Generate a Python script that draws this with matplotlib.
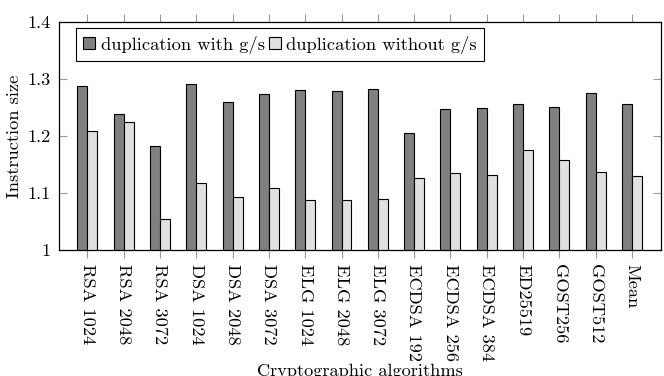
import matplotlib
matplotlib.use('Agg')
import matplotlib.pyplot as plt
from matplotlib.ticker import FuncFormatter
import numpy as np

plt.rcParams['font.family'] = ['cmr10', 'DejaVu Serif']
plt.rcParams['mathtext.fontset'] = 'cm'
plt.rcParams['axes.formatter.use_mathtext'] = True

algorithms = ['RSA 1024', 'RSA 2048', 'RSA 3072', 'DSA 1024', 'DSA 2048', 'DSA 3072',
              'ELG 1024', 'ELG 2048', 'ELG 3072', 'ECDSA 192', 'ECDSA 256', 'ECDSA 384',
              'ED25519', 'GOST256', 'GOST512', 'Mean']
with_gs = [1.288, 1.238, 1.182, 1.292, 1.260, 1.274, 1.281, 1.279, 1.282,
           1.206, 1.247, 1.249, 1.257, 1.251, 1.276, 1.257]
without_gs = [1.209, 1.225, 1.054, 1.118, 1.093, 1.108, 1.087, 1.088, 1.089,
              1.126, 1.135, 1.131, 1.175, 1.158, 1.137, 1.129]

fs = 13.2
fig = plt.figure(figsize=(6.64, 3.76), dpi=100)
ax = fig.add_axes([0.0889, 0.3351, 0.9066, 0.6064])

x = np.arange(len(algorithms))
w = 0.275
ax.bar(x - w / 2, with_gs, w, bottom=0, color='#808080', edgecolor='black',
       linewidth=0.8, label='duplication with g/s')
ax.bar(x + w / 2, without_gs, w, bottom=0, color='#e0e0e0', edgecolor='black',
       linewidth=0.8, label='duplication without g/s')

ax.set_ylim(1, 1.4)
ax.set_xlim(-0.78, 15.8)
ax.set_yticks([1, 1.1, 1.2, 1.3, 1.4])
ax.yaxis.set_major_formatter(FuncFormatter(lambda v, p: '%g' % round(v, 2)))
ax.set_xticks(x)
ax.set_xticklabels(algorithms, rotation=270, fontsize=fs)

ax.tick_params(axis='x', direction='out', length=5.8, width=0.8, color='#999999',
               top=True, bottom=True, pad=4.5)
ax.tick_params(axis='y', direction='in', length=5.5, width=0.8, color='#999999',
               left=True, right=True, pad=6, labelsize=fs)
for s in ax.spines.values():
    s.set_linewidth(0.9)
    s.set_color('black')

ax.set_ylabel('Instruction size', fontsize=fs)
ax.yaxis.set_label_coords(-0.062, 0.5)
ax.set_xlabel('Cryptographic algorithms', fontsize=fs)
ax.xaxis.set_label_coords(0.5, -0.5)  # cut off at the bottom edge, as in the original

leg = ax.legend(loc='upper left', bbox_to_anchor=(0.028, 0.972), ncol=2, fontsize=13.3,
                frameon=True, fancybox=False, framealpha=1, edgecolor='black',
                handlelength=0.65, handleheight=0.65, handletextpad=0.3,
                columnspacing=0.2, borderpad=0.4, borderaxespad=0)
leg.get_frame().set_linewidth(0.8)

fig.savefig('out.png', dpi=100)
